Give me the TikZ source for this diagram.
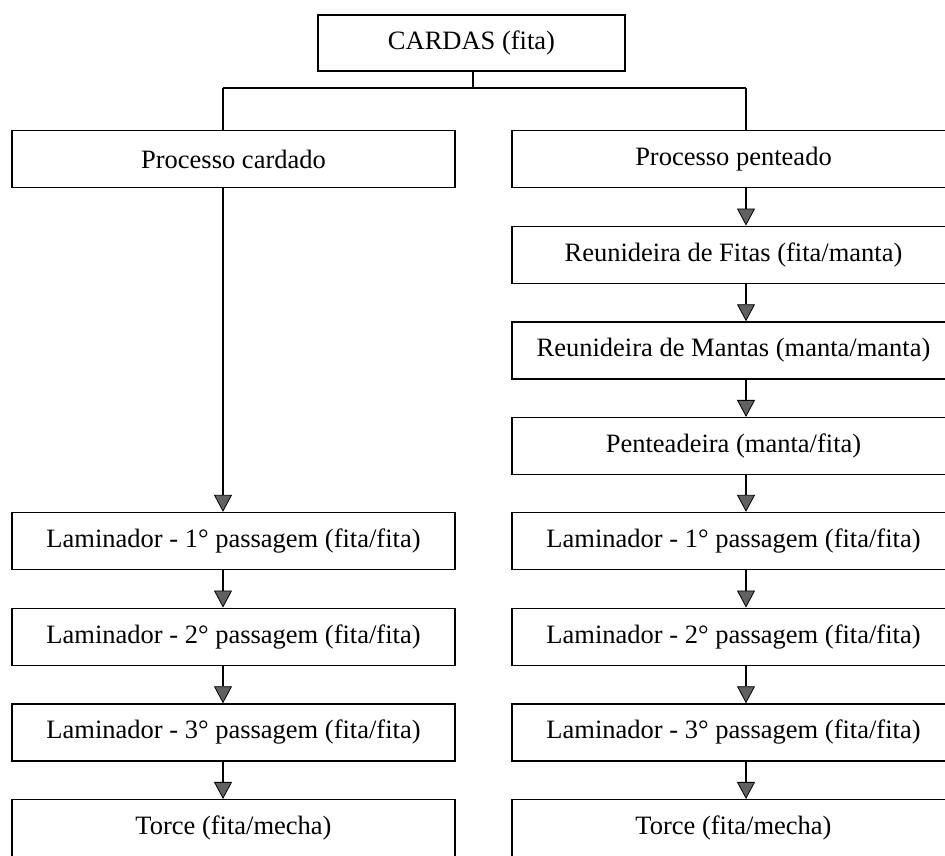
\documentclass[tikz,border=0pt]{standalone}
\usepackage{fontspec}
\setmainfont{Liberation Serif}
\usetikzlibrary{arrows.meta}

\begin{document}
\begin{tikzpicture}[x=1pt,y=-1pt,
  stagebox/.style={draw, line width=1.3pt, rectangle, minimum width=443pt,
    minimum height=57pt, inner sep=0pt, font=\fontsize{26.5}{30}\selectfont},
  topbox/.style={stagebox, minimum width=307pt, minimum height=56pt},
  link/.style={line width=1.2pt},
  flow/.style={line width=1.2pt,
    -{Triangle[width=18pt,length=17pt,fill=black!62,line width=0.8pt]}}]

  \useasboundingbox (0,0) rectangle (945,856);
  \clip (0,0) rectangle (945,856);
  \fill[white] (0,0) rectangle (945,856);

  % flow lines of the two columns
  \coordinate (colL) at (223,0);
  \coordinate (colR) at (746,0);

  % top node
  \node[topbox] (cardas) at (471.5,43) {CARDAS (fita)};

  % carded route (left column)
  \node[stagebox] (pc)  at (233.5,159)   {Processo cardado};
  \node[stagebox] (lA1) at (233.5,541)   {Laminador - 1° passagem (fita/fita)};
  \node[stagebox] (lA2) at (233.5,636.7) {Laminador - 2° passagem (fita/fita)};
  \node[stagebox] (lA3) at (233.5,732.4) {Laminador - 3° passagem (fita/fita)};
  \node[stagebox] (tA)  at (233.5,828.1) {Torce (fita/mecha)};

  % combed route (right column)
  \node[stagebox] (pp)  at (733.5,159)   {Processo penteado};
  \node[stagebox] (rf)  at (733.5,254.7) {Reunideira de Fitas (fita/manta)};
  \node[stagebox] (rm)  at (733.5,350.4) {Reunideira de Mantas (manta/manta)};
  \node[stagebox] (pt)  at (733.5,446.1) {Penteadeira (manta/fita)};
  \node[stagebox] (lB1) at (733.5,541)   {Laminador - 1° passagem (fita/fita)};
  \node[stagebox] (lB2) at (733.5,636.7) {Laminador - 2° passagem (fita/fita)};
  \node[stagebox] (lB3) at (733.5,732.4) {Laminador - 3° passagem (fita/fita)};
  \node[stagebox] (tB)  at (733.5,828.1) {Torce (fita/mecha)};

  % split below the top node
  \coordinate (split) at (473,88);
  \draw[link] (cardas.south -| split) -- (split);
  \draw[link] (split -| colL) -- (split -| colR);
  \draw[link] (split -| colL) -- (pc.north -| colL);
  \draw[link] (split -| colR) -- (pp.north -| colR);

  % left column arrows
  \draw[flow] (pc.south -| colL)  -- (lA1.north -| colL);
  \draw[flow] (lA1.south -| colL) -- (lA2.north -| colL);
  \draw[flow] (lA2.south -| colL) -- (lA3.north -| colL);
  \draw[flow] (lA3.south -| colL) -- (tA.north -| colL);

  % right column arrows
  \draw[flow] (pp.south -| colR)  -- (rf.north -| colR);
  \draw[flow] (rf.south -| colR)  -- (rm.north -| colR);
  \draw[flow] (rm.south -| colR)  -- (pt.north -| colR);
  \draw[flow] (pt.south -| colR)  -- (lB1.north -| colR);
  \draw[flow] (lB1.south -| colR) -- (lB2.north -| colR);
  \draw[flow] (lB2.south -| colR) -- (lB3.north -| colR);
  \draw[flow] (lB3.south -| colR) -- (tB.north -| colR);
\end{tikzpicture}
\end{document}
